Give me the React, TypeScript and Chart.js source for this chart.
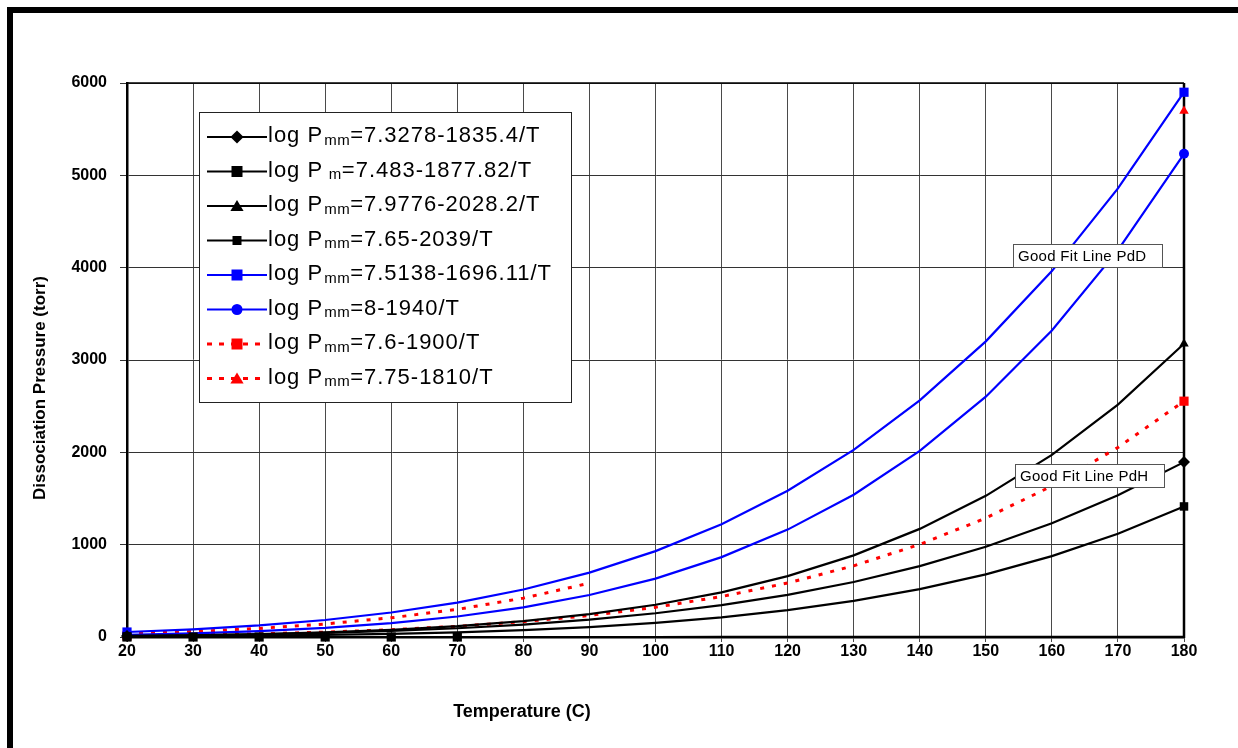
import React, { useEffect, useRef } from "react";
import { Chart, registerables } from "chart.js";

Chart.register(...registerables);

// Temperatures (°C) along the x axis
const temperatures = [20, 30, 40, 50, 60, 70, 80, 90, 100, 110, 120, 130, 140, 150, 160, 170, 180];
const temperatureLabels = temperatures.map(String);

// Dissociation pressure (torr) for each fit equation
const pressureA = [12, 19, 29, 44, 66, 95, 135, 188, 257, 345, 456, 596, 768, 978, 1231, 1535, 1894];
const pressureB = [0.01, 0.02, 0.03, 0.04, 0.07, 0.1, 0.14, 0.2, 0.27, 0.36, 0.48, 0.63, 0.82, 1.05, 1.33, 1.67, 2.18];
const pressureC = [11, 19, 32, 50, 78, 117, 172, 247, 349, 483, 659, 884, 1171, 1529, 1973, 2517, 3176];
const pressureD = [5, 8, 14, 22, 34, 51, 75, 108, 153, 213, 291, 391, 519, 678, 876, 1119, 1414];
const pressureE = [54, 83, 125, 184, 265, 372, 514, 697, 930, 1222, 1584, 2026, 2562, 3202, 3963, 4858, 5900];
const pressureF = [24, 40, 64, 99, 150, 222, 321, 455, 632, 865, 1163, 1541, 2016, 2603, 3320, 4190, 5233];
const pressureG = [13, 22, 34, 53, 79, 116, 166, 233, 322, 438, 585, 771, 1003, 1288, 1635, 2053, 2554];
const pressureH = [38, 60, 93, 141, 208, 299, 421, 583, null, null, null, null, null, null, null, null, 5698];

// Legend text pieces: prefix, subscript, equation
const legendPrefix = "log P";
const legendSubscripts = ["mm", " m", "mm", "mm", "mm", "mm", "mm", "mm"];
const legendEquations = [
  "=7.3278-1835.4/T",
  "=7.483-1877.82/T",
  "=7.9776-2028.2/T",
  "=7.65-2039/T",
  "=7.5138-1696.11/T",
  "=8-1940/T",
  "=7.6-1900/T",
  "=7.75-1810/T",
];

const yTickValues = [0, 1000, 2000, 3000, 4000, 5000, 6000];

const noteLabels = ["Good Fit Line PdD", "Good Fit Line PdH"];

const FONT = "'Liberation Sans', Arial, Helvetica, sans-serif";
const BLACK = "#000000";
const BLUE = "#0000FF";
const RED = "#FF0000";

type SeriesStyle = {
  color: string;
  marker: "rectRot" | "rect" | "triangle" | "circle";
  size: number;
  legendSize: number;
  dashed: boolean;
  markerCount: number; // leading points that carry a marker (0 = only the ends)
};

const seriesStyles: SeriesStyle[] = [
  { color: BLACK, marker: "rectRot", size: 6, legendSize: 5.5, dashed: false, markerCount: 0 },
  { color: BLACK, marker: "rect", size: 6.5, legendSize: 5.5, dashed: false, markerCount: 6 },
  { color: BLACK, marker: "triangle", size: 5.5, legendSize: 5.5, dashed: false, markerCount: 0 },
  { color: BLACK, marker: "rect", size: 6, legendSize: 4.5, dashed: false, markerCount: 0 },
  { color: BLUE, marker: "rect", size: 6.5, legendSize: 5.5, dashed: false, markerCount: 0 },
  { color: BLUE, marker: "circle", size: 5, legendSize: 5.5, dashed: false, markerCount: 0 },
  { color: RED, marker: "rect", size: 6.5, legendSize: 5.5, dashed: true, markerCount: 0 },
  { color: RED, marker: "triangle", size: 5.5, legendSize: 5.5, dashed: true, markerCount: 0 },
];

const seriesValues = [pressureA, pressureB, pressureC, pressureD, pressureE, pressureF, pressureG, pressureH];

function markerRadii(count: number, size: number, leading: number): number[] {
  return Array.from({ length: count }, (_, i) => {
    if (leading > 0) return i < leading ? size : 0;
    return i === 0 || i === count - 1 ? size : 0;
  });
}

function drawMarker(ctx: CanvasRenderingContext2D, kind: string, x: number, y: number, r: number, color: string) {
  ctx.save();
  ctx.fillStyle = color;
  ctx.beginPath();
  if (kind === "rectRot") {
    ctx.moveTo(x, y - r * 1.2);
    ctx.lineTo(x + r * 1.2, y);
    ctx.lineTo(x, y + r * 1.2);
    ctx.lineTo(x - r * 1.2, y);
    ctx.closePath();
  } else if (kind === "rect") {
    ctx.rect(x - r, y - r, r * 2, r * 2);
  } else if (kind === "triangle") {
    ctx.moveTo(x, y - r * 1.1);
    ctx.lineTo(x + r * 1.2, y + r * 0.9);
    ctx.lineTo(x - r * 1.2, y + r * 0.9);
    ctx.closePath();
  } else {
    ctx.arc(x, y, r, 0, Math.PI * 2);
  }
  ctx.fill();
  ctx.restore();
}

const decorations = {
  id: "decorations",
  beforeDraw(chart: any) {
    const ctx: CanvasRenderingContext2D = chart.ctx;
    ctx.save();
    ctx.fillStyle = "#ffffff";
    ctx.fillRect(0, 0, chart.width, chart.height);
    // outer frame on the top and left
    ctx.fillStyle = BLACK;
    ctx.fillRect(7, 7, chart.width - 7, 6);
    ctx.fillRect(7, 7, 6, chart.height - 7);
    ctx.restore();
  },
  beforeDatasetsDraw(chart: any) {
    const ctx: CanvasRenderingContext2D = chart.ctx;
    const { left, right, top, bottom } = chart.chartArea;
    ctx.save();
    ctx.strokeStyle = BLACK;
    ctx.lineWidth = 1.5;
    ctx.beginPath();
    ctx.moveTo(left, top);
    ctx.lineTo(right, top);
    ctx.stroke();
    ctx.lineWidth = 2.5;
    ctx.beginPath();
    ctx.moveTo(right, top);
    ctx.lineTo(right, bottom + 1);
    ctx.stroke();
    ctx.restore();
  },
  afterDraw(chart: any) {
    const ctx: CanvasRenderingContext2D = chart.ctx;
    ctx.save();

    // legend box
    const lx = 199;
    const ly = 112;
    const lw = 372;
    const lh = 290;
    ctx.fillStyle = "#ffffff";
    ctx.fillRect(lx, ly, lw, lh);
    ctx.strokeStyle = "#222";
    ctx.lineWidth = 1;
    ctx.strokeRect(lx + 0.5, ly + 0.5, lw, lh);

    for (let i = 0; i < seriesStyles.length; i++) {
      const s = seriesStyles[i];
      const cy = 137 + i * 34.5;
      ctx.strokeStyle = s.color;
      ctx.lineWidth = s.dashed ? 3 : 2.2;
      ctx.setLineDash(s.dashed ? [5, 7] : []);
      ctx.beginPath();
      ctx.moveTo(207, cy);
      ctx.lineTo(267, cy);
      ctx.stroke();
      ctx.setLineDash([]);
      drawMarker(ctx, s.marker, 237, cy, s.legendSize, s.color);

      const base = cy + 5;
      let x = 268;
      ctx.fillStyle = BLACK;
      ctx.textBaseline = "alphabetic";
      ctx.textAlign = "left";
      (ctx as any).letterSpacing = "1px";
      ctx.font = `22px ${FONT}`;
      ctx.fillText(legendPrefix, x, base);
      x += ctx.measureText(legendPrefix).width;
      ctx.font = `15px ${FONT}`;
      (ctx as any).letterSpacing = "0.5px";
      ctx.fillText(legendSubscripts[i], x + 1, base + 2.5);
      x += ctx.measureText(legendSubscripts[i]).width + 1;
      (ctx as any).letterSpacing = "1px";
      ctx.font = `22px ${FONT}`;
      ctx.fillText(legendEquations[i], x, base);
      (ctx as any).letterSpacing = "0px";
    }

    // note boxes
    const notes = [
      { text: noteLabels[0], x: 1013, y: 244, w: 149, h: 23 },
      { text: noteLabels[1], x: 1015, y: 464, w: 149, h: 23 },
    ];
    for (const n of notes) {
      ctx.fillStyle = "#ffffff";
      ctx.fillRect(n.x, n.y, n.w, n.h);
      ctx.strokeStyle = "#555";
      ctx.lineWidth = 1;
      ctx.strokeRect(n.x + 0.5, n.y + 0.5, n.w, n.h);
      ctx.fillStyle = BLACK;
      ctx.font = `15px ${FONT}`;
      (ctx as any).letterSpacing = "0.3px";
      ctx.textAlign = "left";
      ctx.textBaseline = "middle";
      ctx.fillText(n.text, n.x + 5, n.y + n.h / 2 + 1);
      (ctx as any).letterSpacing = "0px";
    }

    // axis titles
    ctx.fillStyle = BLACK;
    ctx.font = `bold 18px ${FONT}`;
    ctx.textAlign = "center";
    ctx.textBaseline = "middle";
    ctx.fillText("Temperature (C)", 522, 712);

    ctx.translate(40, 388);
    ctx.rotate(-Math.PI / 2);
    ctx.font = `bold 17px ${FONT}`;
    ctx.fillText("Dissociation Pressure (torr)", 0, 0);

    ctx.restore();
  },
};

export default function App() {
  const canvasRef = useRef<HTMLCanvasElement | null>(null);

  useEffect(() => {
    const canvas = canvasRef.current;
    if (!canvas) return;

    const datasets = seriesValues.map((values, i) => {
      const s = seriesStyles[i];
      return {
        label: legendPrefix + legendSubscripts[i] + legendEquations[i],
        data: values,
        borderColor: s.color,
        backgroundColor: s.color,
        borderWidth: s.dashed ? 3 : 2.2,
        borderDash: s.dashed ? [4, 8] : [],
        pointStyle: s.marker,
        pointRadius: markerRadii(values.length, s.size, s.markerCount),
        pointBorderWidth: 0,
        pointBackgroundColor: s.color,
        tension: 0,
        spanGaps: false,
        clip: false as any,
      };
    });

    const chart = new Chart(canvas, {
      type: "line",
      data: { labels: temperatureLabels, datasets },
      plugins: [decorations],
      options: {
        responsive: false,
        animation: false,
        events: [],
        layout: { padding: { left: 0, right: 54, top: 83, bottom: 0 } },
        plugins: {
          legend: { display: false },
          tooltip: { enabled: false },
          title: { display: false },
        },
        scales: {
          x: {
            type: "category",
            offset: false,
            grid: { color: "#4a4a4a", lineWidth: 1, tickLength: 5, drawTicks: true },
            border: { color: BLACK, width: 2.5 },
            ticks: {
              color: BLACK,
              font: { family: FONT, size: 16, weight: "bold" },
              padding: 0,
              maxRotation: 0,
              autoSkip: false,
            },
            afterFit(scale: any) {
              scale.height = 111;
            },
          },
          y: {
            min: 0,
            max: 6000,
            afterBuildTicks(scale: any) {
              scale.ticks = yTickValues.map((v) => ({ value: v }));
            },
            grid: { color: "#333333", lineWidth: 1, tickLength: 7, drawTicks: true },
            border: { color: BLACK, width: 2.5 },
            ticks: {
              color: BLACK,
              font: { family: FONT, size: 16, weight: "bold" },
              padding: 13,
              callback: (v: any) => String(v),
            },
            afterFit(scale: any) {
              scale.width = 127;
            },
          },
        },
      } as any,
    });

    return () => chart.destroy();
  }, []);

  return (
    <div style={{ position: "fixed", left: 0, top: 0, width: 1238, height: 748, background: "#fff" }}>
      <canvas ref={canvasRef} width={1238} height={748} style={{ display: "block", width: 1238, height: 748 }} />
    </div>
  );
}
